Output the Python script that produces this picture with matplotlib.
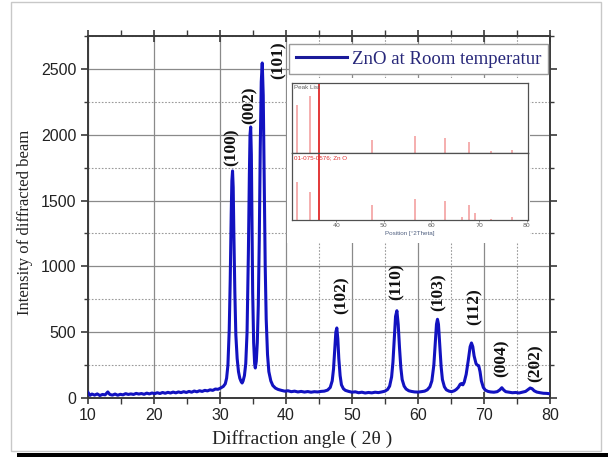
import matplotlib
matplotlib.use("Agg")

import matplotlib.pyplot as plt
from matplotlib.patches import Rectangle
from matplotlib.ticker import MultipleLocator

# ==========================================================
# Data read from the reference pattern
# ==========================================================

two_theta = [
    10.0, 10.3, 10.6, 11.0, 11.4, 11.8, 12.2, 12.6, 13.0, 13.3,
    13.7, 14.1, 14.5, 14.9, 15.3, 15.7, 16.1, 16.5, 16.9, 17.3,
    17.7, 18.1, 18.5, 18.9, 19.3, 19.7, 20.1, 20.5, 20.9, 21.3,
    21.7, 22.1, 22.5, 22.9, 23.3, 23.7, 24.1, 24.5, 24.9, 25.3,
    25.7, 26.1, 26.5, 26.9, 27.3, 27.7, 28.1, 28.5, 28.9, 29.3,
    29.7, 30.1, 30.5, 30.8, 31.0, 31.2, 31.4, 31.55, 31.7, 31.8,
    31.9, 32.0, 32.1, 32.25, 32.4, 32.6, 32.8, 33.0, 33.2, 33.35,
    33.5, 33.7, 33.9, 34.1, 34.3, 34.45, 34.55, 34.65, 34.75, 34.85,
    34.95, 35.1, 35.25, 35.35, 35.5, 35.65, 35.8, 35.95, 36.1, 36.25,
    36.4, 36.55, 36.7, 36.85, 37.0, 37.2, 37.4, 37.7, 38.0, 38.4,
    38.8, 39.3, 39.8, 40.3, 40.8, 41.3, 41.8, 42.3, 42.8, 43.3,
    43.8, 44.3, 44.8, 45.3, 45.8, 46.3, 46.7, 47.0, 47.2, 47.4,
    47.55, 47.7, 47.85, 48.0, 48.2, 48.4, 48.7, 49.0, 49.5, 50.0,
    50.5, 51.0, 51.5, 52.0, 52.5, 53.0, 53.5, 54.0, 54.5, 55.0,
    55.4, 55.7, 56.0, 56.2, 56.4, 56.6, 56.8, 57.0, 57.2, 57.4,
    57.6, 57.9, 58.2, 58.6, 59.0, 59.5, 60.0, 60.5, 61.0, 61.4,
    61.8, 62.1, 62.4, 62.6, 62.8, 62.95, 63.1, 63.3, 63.5, 63.7,
    64.0, 64.3, 64.7, 65.1, 65.5, 65.8, 66.1, 66.4, 66.6, 66.8,
    67.0, 67.3, 67.6, 67.9, 68.1, 68.3, 68.5, 68.8, 69.0, 69.2,
    69.4, 69.6, 69.9, 70.2, 70.6, 71.0, 71.5, 72.0, 72.4, 72.7,
    73.0, 73.3, 73.8, 74.3, 74.8, 75.3, 75.8, 76.3, 76.7, 77.0,
    77.3, 77.6, 78.0, 78.5, 79.0, 79.5, 80.0,
]

intensity = [
    42, 20, 30, 22, 31, 19, 27, 24, 46, 27,
    22, 30, 21, 28, 24, 33, 27, 31, 27, 35,
    30, 34, 28, 37, 31, 38, 33, 40, 34, 42,
    36, 43, 38, 45, 39, 46, 41, 48, 42, 50,
    44, 53, 47, 55, 50, 58, 54, 62, 58, 68,
    66, 76, 88, 108, 150, 250, 520, 900, 1400, 1650,
    1725, 1600, 1250, 800, 480, 300, 200, 150, 125, 114,
    130, 170, 260, 500, 1100, 1700, 2000, 2059, 1850, 1300,
    800, 420, 260, 228, 280, 420, 700, 1200, 1900, 2400,
    2545, 2300, 1650, 1000, 600, 330, 200, 130, 95, 75,
    65, 58, 52, 55, 48, 52, 46, 50, 45, 49,
    44, 48, 46, 50, 52, 60, 80, 130, 220, 380,
    500, 532, 450, 300, 170, 100, 70, 58, 50, 44,
    47, 40, 44, 38, 42, 39, 44, 41, 46, 52,
    65, 90, 160, 270, 450, 620, 663, 560, 380, 230,
    140, 90, 68, 55, 50, 46, 45, 48, 52, 62,
    85, 130, 250, 400, 560, 598, 560, 400, 240, 140,
    85, 62, 52, 48, 55, 65, 80, 105, 110, 100,
    120, 180, 280, 390, 418, 390, 320, 260, 250, 245,
    200, 130, 80, 60, 50, 46, 44, 48, 62, 78,
    60, 48, 44, 40, 42, 38, 44, 50, 65, 76,
    70, 55, 45, 40, 36, 35, 32,
]

hkl_labels = ["(100)", "(002)", "(101)", "(102)", "(110)",
              "(103)", "(112)", "(004)", "(202)"]
hkl_x = [31.8, 34.55, 38.9, 48.4, 56.8, 63.2, 68.6, 72.7, 77.9]
hkl_y = [1907, 2226, 2568, 782, 884, 806, 692, 304, 266]

# inset: peak list and reference card 01-075-0576
peak_list_pos = [31.8, 34.4, 36.3, 47.6, 56.6, 62.9, 68.0, 72.6, 77.0]
peak_list_rel = [0.69, 0.82, 1.0, 0.19, 0.24, 0.22, 0.16, 0.03, 0.04]
ref_pos = [31.8, 34.4, 36.3, 47.6, 56.6, 62.9, 66.4, 68.0, 69.1, 72.6, 77.0]
ref_rel = [0.57, 0.42, 1.0, 0.22, 0.31, 0.28, 0.05, 0.23, 0.11, 0.02, 0.05]

# ==========================================================
# Figure
# ==========================================================

W, H = 608, 457
fig = plt.figure(figsize=(W / 100, H / 100), dpi=100)

SANS = "Liberation Sans"
SERIF = "Liberation Serif"

# page frame of the original screenshot
fig.add_artist(Rectangle((11 / W, 1 - 451 / H), 590 / W, 449 / H,
                         transform=fig.transFigure, fill=False,
                         edgecolor="#c8c8c8", linewidth=1.0))
fig.add_artist(Rectangle((17 / W, 0), 591 / W, 4 / H,
                         transform=fig.transFigure, facecolor="black",
                         edgecolor="none"))

ax = fig.add_axes([88 / W, 1 - 398 / H, 462 / W, 362 / H])

ax.plot(two_theta, intensity, color="#1212c0", linewidth=2.2, zorder=3,
        label="ZnO at Room temperatur")

ax.set_xlim(10, 80)
ax.set_ylim(0, 2750)

ax.xaxis.set_major_locator(MultipleLocator(10))
ax.xaxis.set_minor_locator(MultipleLocator(5))
ax.yaxis.set_major_locator(MultipleLocator(500))
ax.yaxis.set_minor_locator(MultipleLocator(250))

ax.grid(which="major", color="#8a8a8a", linewidth=0.9, zorder=0)
ax.grid(which="minor", axis="y", color="#9a9a9a", linewidth=0.8,
        linestyle=(0, (1.5, 1.5)), zorder=0)
for xm in [45, 55, 65, 75]:
    ax.axvline(xm, color="#9a9a9a", linewidth=0.8,
               linestyle=(0, (1.5, 1.5)), zorder=0)

for side in ax.spines.values():
    side.set_color("#3a3a3a")
    side.set_linewidth(1.4)

ax.tick_params(which="both", top=True, right=True, colors="#3a3a3a",
               labelcolor="#222222")
ax.tick_params(which="major", axis="x", direction="inout", length=8,
               width=1.2, labelsize=11.5, pad=3)
ax.tick_params(which="minor", axis="x", direction="out", length=4, width=1)
ax.tick_params(which="major", axis="y", direction="out", length=5,
               width=1.2, labelsize=11.5)
ax.tick_params(which="minor", axis="y", direction="out", length=3, width=1)
for lab in ax.get_xticklabels() + ax.get_yticklabels():
    lab.set_fontfamily(SANS)

ax.set_xlabel("Diffraction angle ( 2\u03b8 )", fontfamily=SERIF,
              fontsize=14, color="#222222")
ax.xaxis.set_label_coords(0.463, -0.088)
ax.set_ylabel("Intensity of diffracted beam", fontfamily=SERIF,
              fontsize=12, color="#222222")
ax.yaxis.set_label_coords(-0.12, 0.485)

for text, x, y in zip(hkl_labels, hkl_x, hkl_y):
    ax.text(x, y, text, rotation=90, ha="center", va="center",
            fontfamily=SERIF, fontweight="bold", fontsize=12.5,
            color="#111111", zorder=4)

leg = ax.legend(loc="upper right", bbox_to_anchor=(0.996, 0.978),
                borderaxespad=0, fancybox=False, framealpha=1,
                edgecolor="#9a9a9a", handlelength=2.7, handletextpad=0.3,
                borderpad=0.35, prop={"family": SERIF, "size": 13.5})
leg.get_frame().set_linewidth(1.0)
for t in leg.get_texts():
    t.set_color("#28287a")
leg.get_lines()[0].set_linewidth(2.2)
leg.get_lines()[0].set_color("#1a1a9a")

# white patch under the inset
fig.add_artist(Rectangle((287 / W, 1 - 243 / H), 243 / W, 165 / H,
                         transform=fig.transFigure, facecolor="white",
                         edgecolor="none", zorder=1.5))

# ==========================================================
# Inset (peak list / reference card)
# ==========================================================

ins_top = fig.add_axes([292 / W, 1 - 153 / H, 236 / W, 70 / H], zorder=2)
ins_bot = fig.add_axes([292 / W, 1 - 220 / H, 236 / W, 67 / H], zorder=2,
                       sharex=ins_top)

for a, pos, rel in [(ins_top, peak_list_pos, peak_list_rel),
                    (ins_bot, ref_pos, ref_rel)]:
    colors = ["#e02828" if r >= 1 else "#f4a8a8" for r in rel]
    a.vlines(pos, 0, rel, colors=colors, linewidth=1.3)
    a.set_ylim(0, 1)
    a.set_yticks([])
    for side in a.spines.values():
        side.set_color("#505050")
        side.set_linewidth(0.9)

ins_top.set_xlim(30.7, 80.3)
ins_top.tick_params(axis="x", bottom=False, labelbottom=False)
ins_bot.set_xticks([40, 50, 60, 70, 80])
ins_bot.tick_params(axis="x", length=1.5, width=0.5, pad=1, labelsize=4.5,
                    colors="#606060")

ins_top.text(0.01, 0.97, "Peak List", transform=ins_top.transAxes,
             ha="left", va="top", fontsize=4.5, color="#606060",
             fontfamily=SANS)
ins_bot.text(0.01, 0.97, "01-075-0576; Zn O", transform=ins_bot.transAxes,
             ha="left", va="top", fontsize=4.5, color="#e03030",
             fontfamily=SANS)
ins_bot.set_xlabel("Position [\u00b02Theta]", fontsize=4.5,
                   color="#506080", labelpad=1.5, fontfamily=SANS)

fig.savefig("out.png", dpi=100)
